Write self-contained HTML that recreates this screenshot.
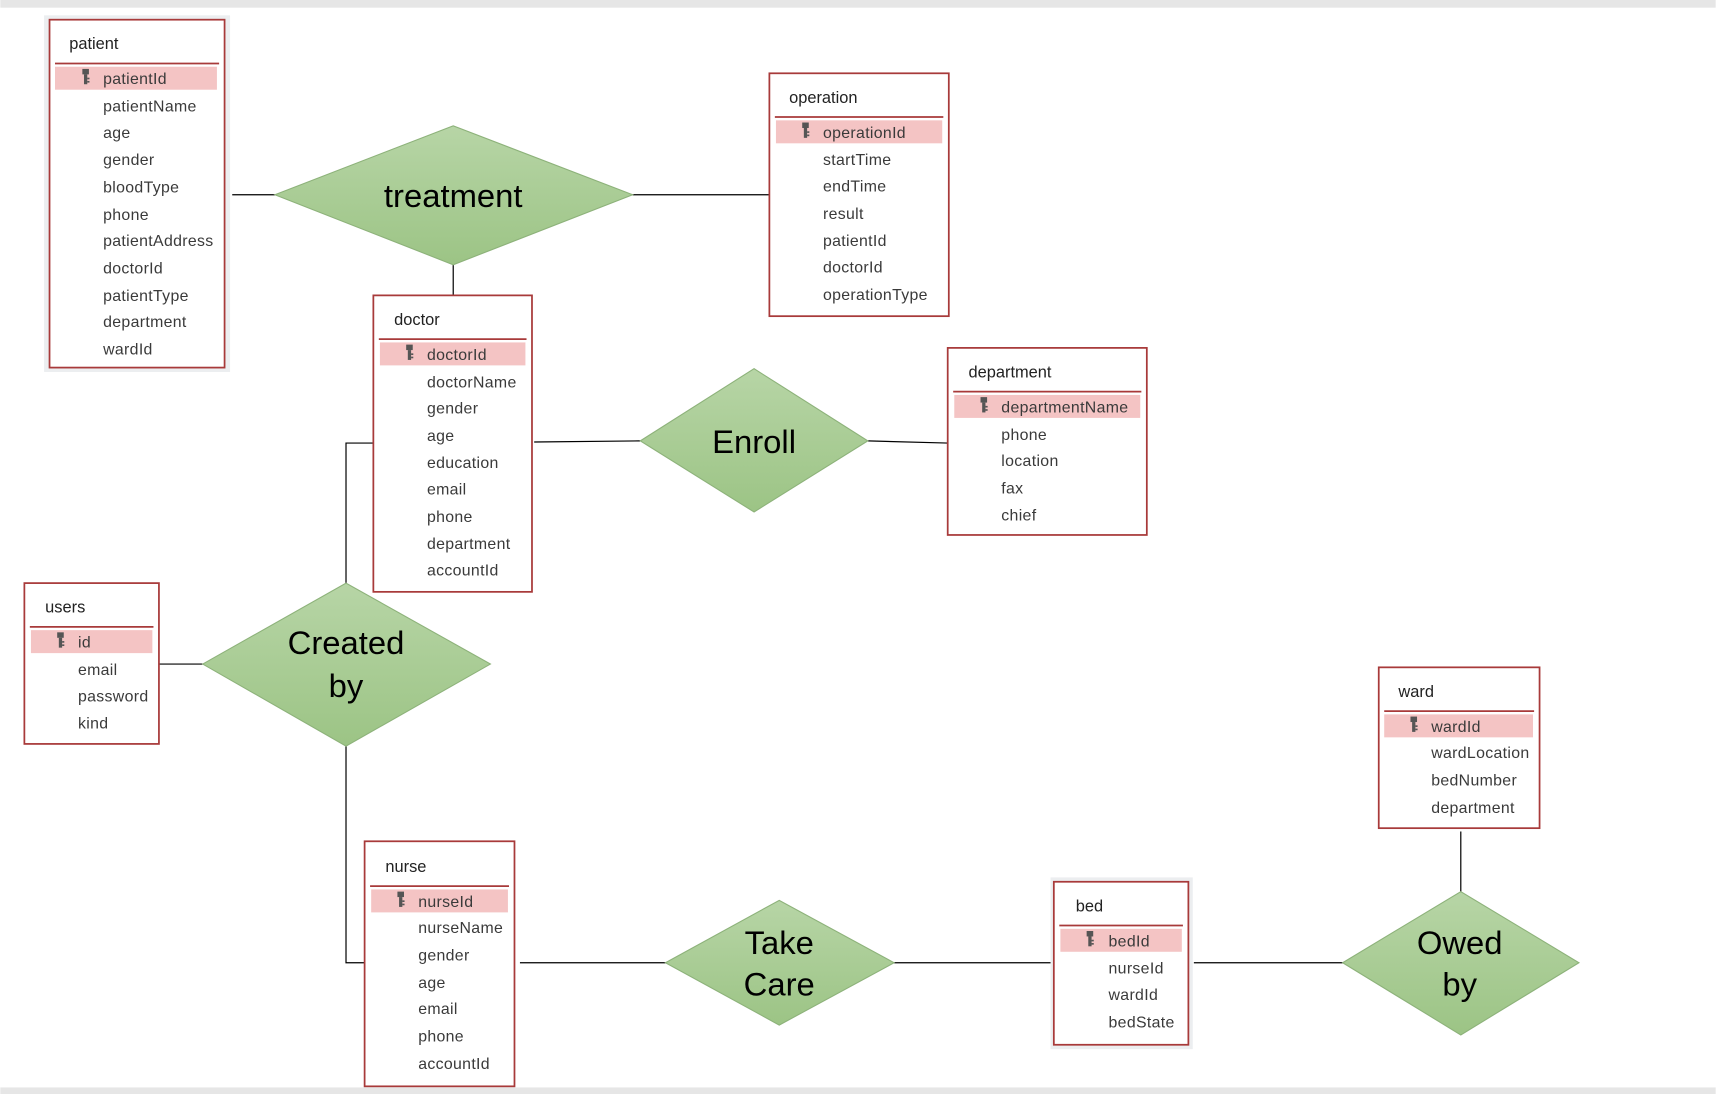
<!DOCTYPE html>
<html><head><meta charset="utf-8"><style>
html,body{margin:0;padding:0;background:#fff;}
svg{display:block}
text{font-family:"Liberation Sans",sans-serif;}
.t{font-size:15px;fill:#222;}
.r{font-size:14.5px;fill:#3a3a3a;letter-spacing:0.3px}
.d{font-size:30px;fill:#000;text-anchor:middle}
.box{fill:#fff;stroke:#a83a3a;stroke-width:1.6}
.sh{fill:#eceef0}
.sep{stroke:#a83a3a;stroke-width:1.6}
.hl{fill:#f4c4c4}
.ln{stroke:#000;stroke-width:1.1;fill:none}
.dm{fill:url(#g);stroke:#8db27a;stroke-width:1}
</style></head><body>
<svg width="1716" height="1094" viewBox="0 0 1568 1000" xmlns="http://www.w3.org/2000/svg">
<defs>
<linearGradient id="g" x1="0" y1="0" x2="0" y2="1"><stop offset="0" stop-color="#b7d5a6"/><stop offset="1" stop-color="#9cc485"/></linearGradient>
<g id="key"><rect x="-3" y="-8" width="6" height="5" fill="#555"/><rect x="-1.5" y="-3" width="3" height="9" fill="#555"/><rect x="1.5" y="0" width="2" height="1.5" fill="#555"/><rect x="1.5" y="3" width="2" height="1.5" fill="#555"/></g>
</defs>
<rect x="0" y="0" width="1568" height="7" fill="#e6e6e6"/>
<rect x="0" y="994" width="1568" height="6" fill="#e6e6e6"/>

<!-- connectors -->
<path class="ln" d="M212 178H251 M578 178H703 M414 242V270 M488 404L585 403 M793 403L866 405 M341 405H316V533 M145 607H185 M316 682V880H333 M475 880H608 M817 880H963 M1091 880H1227 M1335 760V815"/>

<!-- diamonds -->
<polygon class="dm" points="251,178 414,115 578,178 414,242"/>
<text class="d" x="414" y="189">treatment</text>
<polygon class="dm" points="585,403 689,337 793,403 689,468"/>
<text class="d" x="689" y="414">Enroll</text>
<polygon class="dm" points="185,607 316,533 448,607 316,682"/>
<text class="d" x="316" y="598">Created</text><text class="d" x="316" y="637">by</text>
<polygon class="dm" points="608,880 712,823 817,880 712,937"/>
<text class="d" x="712" y="872">Take</text><text class="d" x="712" y="910">Care</text>
<polygon class="dm" points="1227,880 1335,815 1443,880 1335,946"/>
<text class="d" x="1334" y="872">Owed</text><text class="d" x="1334" y="910">by</text>

<!-- patient -->
<rect class="sh" x="40" y="14" width="170" height="326"/>
<rect class="box" x="45" y="18" width="160" height="318"/>
<text class="t" x="63" y="45">patient</text>
<line class="sep" x1="50" y1="58" x2="200" y2="58"/>
<rect class="hl" x="50" y="61" width="148" height="21"/>
<use href="#key" x="78" y="71"/>
<g class="r"><text x="94" y="77">patientId</text><text x="94" y="102">patientName</text><text x="94" y="126">age</text><text x="94" y="151">gender</text><text x="94" y="176">bloodType</text><text x="94" y="201">phone</text><text x="94" y="225">patientAddress</text><text x="94" y="250">doctorId</text><text x="94" y="275">patientType</text><text x="94" y="299">department</text><text x="94" y="324">wardId</text></g>

<!-- operation -->
<rect class="box" x="703" y="67" width="164" height="222"/>
<text class="t" x="721" y="94">operation</text>
<line class="sep" x1="708" y1="107" x2="862" y2="107"/>
<rect class="hl" x="709" y="110" width="152" height="21"/>
<use href="#key" x="736" y="120"/>
<g class="r"><text x="752" y="126">operationId</text><text x="752" y="151">startTime</text><text x="752" y="175">endTime</text><text x="752" y="200">result</text><text x="752" y="225">patientId</text><text x="752" y="249">doctorId</text><text x="752" y="274">operationType</text></g>

<!-- doctor -->
<rect class="box" x="341" y="270" width="145" height="271"/>
<text class="t" x="360" y="297">doctor</text>
<line class="sep" x1="346" y1="310" x2="481" y2="310"/>
<rect class="hl" x="347" y="313" width="133" height="21"/>
<use href="#key" x="374" y="323"/>
<g class="r"><text x="390" y="329">doctorId</text><text x="390" y="354">doctorName</text><text x="390" y="378">gender</text><text x="390" y="403">age</text><text x="390" y="428">education</text><text x="390" y="452">email</text><text x="390" y="477">phone</text><text x="390" y="502">department</text><text x="390" y="526">accountId</text></g>

<!-- department -->
<rect class="box" x="866" y="318" width="182" height="171"/>
<text class="t" x="885" y="345">department</text>
<line class="sep" x1="871" y1="358" x2="1043" y2="358"/>
<rect class="hl" x="872" y="361" width="170" height="21"/>
<use href="#key" x="899" y="371"/>
<g class="r"><text x="915" y="377">departmentName</text><text x="915" y="402">phone</text><text x="915" y="426">location</text><text x="915" y="451">fax</text><text x="915" y="476">chief</text></g>

<!-- users -->
<rect class="box" x="22" y="533" width="123" height="147"/>
<text class="t" x="41" y="560">users</text>
<line class="sep" x1="27" y1="573" x2="140" y2="573"/>
<rect class="hl" x="28" y="576" width="111" height="21"/>
<use href="#key" x="55" y="586"/>
<g class="r"><text x="71" y="592">id</text><text x="71" y="617">email</text><text x="71" y="641">password</text><text x="71" y="666">kind</text></g>

<!-- ward -->
<rect class="box" x="1260" y="610" width="147" height="147"/>
<text class="t" x="1278" y="637">ward</text>
<line class="sep" x1="1265" y1="650" x2="1402" y2="650"/>
<rect class="hl" x="1265" y="653" width="136" height="21"/>
<use href="#key" x="1292" y="663"/>
<g class="r"><text x="1308" y="669">wardId</text><text x="1308" y="693">wardLocation</text><text x="1308" y="718">bedNumber</text><text x="1308" y="743">department</text></g>

<!-- nurse -->
<rect class="box" x="333" y="769" width="137" height="224"/>
<text class="t" x="352" y="797">nurse</text>
<line class="sep" x1="338" y1="810" x2="465" y2="810"/>
<rect class="hl" x="339" y="813" width="125" height="21"/>
<use href="#key" x="366" y="823"/>
<g class="r"><text x="382" y="829">nurseId</text><text x="382" y="853">nurseName</text><text x="382" y="878">gender</text><text x="382" y="903">age</text><text x="382" y="927">email</text><text x="382" y="952">phone</text><text x="382" y="977">accountId</text></g>

<!-- bed -->
<rect class="sh" x="960" y="802" width="130" height="157"/>
<rect class="box" x="963" y="806" width="123" height="149"/>
<text class="t" x="983" y="833">bed</text>
<line class="sep" x1="968" y1="846" x2="1081" y2="846"/>
<rect class="hl" x="969" y="849" width="111" height="21"/>
<use href="#key" x="996" y="859"/>
<g class="r"><text x="1013" y="865">bedId</text><text x="1013" y="890">nurseId</text><text x="1013" y="914">wardId</text><text x="1013" y="939">bedState</text></g>
</svg>
</body></html>
